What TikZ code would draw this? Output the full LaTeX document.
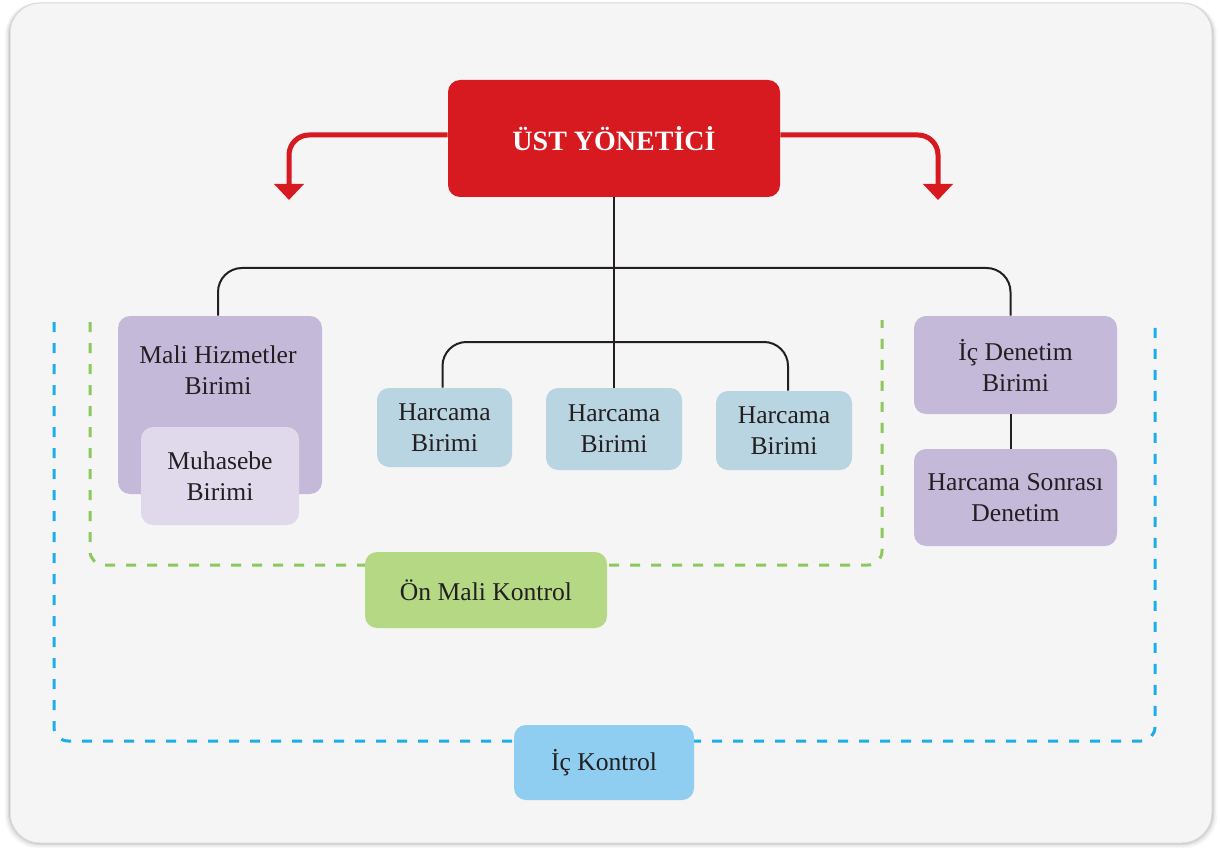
\documentclass[tikz,border=0pt]{standalone}
\usepackage{fontspec}
\setmainfont{Liberation Serif}
\usetikzlibrary{arrows.meta}
\definecolor{cardbg}{HTML}{F5F5F5}
\definecolor{cardline}{HTML}{D9D9D9}
\definecolor{topred}{HTML}{D71920}
\definecolor{purp}{HTML}{C5B9DA}
\definecolor{purplight}{HTML}{E0D9EB}
\definecolor{harc}{HTML}{BAD5E2}
\definecolor{grn}{HTML}{B5D885}
\definecolor{grndash}{HTML}{8DC95A}
\definecolor{blu}{HTML}{8FCEF0}
\definecolor{bludash}{HTML}{1BAEE8}
\definecolor{txt}{HTML}{231F20}
\tikzset{
  box/.style={rounded corners=6pt, inner sep=0pt, align=center, text=txt,
    font=\fontsize{12.8}{15.5}\selectfont},
  treeline/.style={draw=txt, line width=1pt, rounded corners=12pt},
  redarrow/.style={draw=topred, line width=2.5pt, rounded corners=10pt,
    -{Triangle[width=14.5pt,length=8pt]}, color=topred},
  gdash/.style={draw=grndash, line width=1.5pt, dash pattern=on 5pt off 5.5pt, rounded corners=7pt},
  bdash/.style={draw=bludash, line width=1.5pt, dash pattern=on 5pt off 5.5pt, rounded corners=7pt},
}
\begin{document}
\begin{tikzpicture}[x=0.5pt,y=-0.5pt]
\useasboundingbox (0,0) rectangle (1220,850);
\fill[white] (0,0) rectangle (1220,850);
% card shadow
\foreach \d/\o in {5/0.03,3.5/0.05,2/0.07,1/0.08}{
  \fill[black, opacity=\o, rounded corners=16pt] (10-\d,3) rectangle (1212+\d,843+\d);
}
\filldraw[fill=cardbg, draw=cardline, line width=0.5pt, rounded corners=15pt] (10,3) rectangle (1212,843);

% dashed frames
\draw[bdash] (54,322) -- (54,741) -- (1155,741) -- (1155,322);
\draw[gdash] (90,322) -- (90,565) -- (882,565) -- (882,320);

% top box
\node[box, fill=topred, minimum width=166pt, minimum height=58.5pt, text=white,
  font=\fontsize{14}{16}\selectfont\bfseries] (top) at (614,138.5) {ÜST YÖNETİCİ};

% coordinates
\coordinate (bus1) at (614,268);
\coordinate (bus2) at (614,342);
\coordinate (la) at (289,200);
\coordinate (ra) at (938,200);

% boxes
\node[box, fill=purp, minimum width=102pt, minimum height=89pt] (mali) at (220,405) {};
\node[box, anchor=center] (malitxt) at (218,370) {Mali Hizmetler\\Birimi};
\node[box, fill=purplight, minimum width=79pt, minimum height=49pt] (muh) at (220,476) {Muhasebe\\Birimi};
\node[box, fill=harc, minimum width=67.5pt, minimum height=39.5pt] (h1) at (444.5,427.5) {Harcama\\Birimi};
\node[box, fill=harc, minimum width=68pt, minimum height=41pt] (h2) at (614,429) {Harcama\\Birimi};
\node[box, fill=harc, minimum width=68pt, minimum height=39.5pt] (h3) at (784,430.5) {Harcama\\Birimi};
\node[box, fill=purp, minimum width=101.5pt, minimum height=49pt] (ic) at (1015.5,365) {İç Denetim\\Birimi};
\node[box, fill=purp, minimum width=101.5pt, minimum height=48.5pt] (hsd) at (1015.5,497.5) {Harcama Sonrası\\Denetim};
\node[box, fill=grn, minimum width=121pt, minimum height=38pt] (onm) at (486,590) {Ön Mali Kontrol};
\node[box, fill=blu, minimum width=90pt, minimum height=37.5pt] (ick) at (604,762.5) {İç Kontrol};

% tree lines
\draw[treeline] (top.south) -- (h2.north);
\draw[treeline] ([xshift=-1pt]mali.north) |- (bus1) -| ([xshift=-2.5pt]ic.north);
\draw[treeline] ([xshift=-1pt]h1.north) |- (bus2) -| ([xshift=2pt]h3.north);
\draw[treeline] ([xshift=-2.5pt]ic.south) -- ([xshift=-2.5pt]hsd.north);

% red arrows
\draw[redarrow] ([yshift=1.75pt]top.west) -| (la);
\draw[redarrow] ([yshift=1.75pt]top.east) -| (ra);
\end{tikzpicture}
\end{document}
